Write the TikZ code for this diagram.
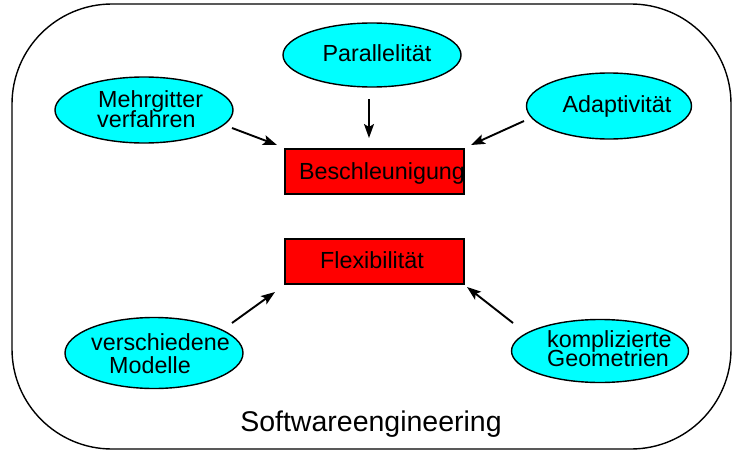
\documentclass[tikz,border=0pt]{standalone}
\usepackage{fontspec}
\setmainfont{Liberation Sans}
\usetikzlibrary{shapes.geometric,arrows.meta}
\definecolor{ellfill}{RGB}{0,255,255}
\definecolor{boxfill}{RGB}{255,0,0}
\begin{document}
\begin{tikzpicture}[x=1pt,y=-1pt,
  ell/.style={ellipse,draw,line width=1.4pt,fill=ellfill,inner sep=0pt},
  redbox/.style={rectangle,draw,line width=1.4pt,fill=boxfill,inner sep=0pt,minimum width=179pt,minimum height=45pt},
  txt/.style={font=\fontsize{23.3}{20}\selectfont,inner sep=0pt},
  arr/.style={-{Stealth[length=14pt,width=10pt,inset=3pt]},line width=1.9pt}]
\useasboundingbox (0,0) rectangle (735,452);
% outer frame
\node[draw,line width=1.4pt,rounded corners=100pt,minimum width=719pt,minimum height=445pt,inner sep=0pt] (frame) at (371.5,226.5) {};
% ellipses
\node[ell,minimum width=178pt,minimum height=64pt] (par) at (372,55) {};
\node[ell,minimum width=178pt,minimum height=66pt] (mg) at (144,110) {};
\node[ell,minimum width=165pt,minimum height=66pt] (ad) at (609,106) {};
\node[ell,minimum width=178pt,minimum height=71pt] (vm) at (154,353) {};
\node[ell,minimum width=177pt,minimum height=63pt] (kg) at (600,351) {};
% boxes
\node[redbox] (bes) at (374.5,171.5) {};
\node[redbox] (flex) at (374.5,261.5) {};
% texts
\node[txt,anchor=base] (part) at (377,61) {Parallelität};
\node[txt,anchor=base] (adt) at (617,112) {Adaptivität};
\node[txt,anchor=base west] (mgt1) at (98,107) {Mehrgitter};
\node[txt,anchor=base west] (mgt2) at (97,127) {verfahren};
\node[txt,anchor=base west] (vmt1) at (91,350) {verschiedene};
\node[txt,anchor=base west] (vmt2) at (109,373) {Modelle};
\node[txt,anchor=base west] (kgt1) at (547,347) {komplizierte};
\node[txt,anchor=base west] (kgt2) at (547,366) {Geometrien};
\node[txt,anchor=base] (best) at (382,179) {Beschleunigung};
\node[txt,anchor=base] (flext) at (372,268) {Flexibilität};
\node[font=\fontsize{28.5}{30}\selectfont,inner sep=0pt,anchor=base] (swe) at (371,431) {Softwareengineering};
% arrow end points
\coordinate (mgA) at (232,128);  \coordinate (besA) at (277,145);
\coordinate (parA) at (369,99);  \coordinate (besB) at (369,138);
\coordinate (adA) at (524,121);  \coordinate (besC) at (471,145);
\coordinate (vmA) at (232,323);  \coordinate (flexA) at (275,292);
\coordinate (kgA) at (513,323);  \coordinate (flexB) at (467,287);
\draw[arr] (mgA) -- (besA);
\draw[arr] (parA) -- (besB);
\draw[arr] (adA) -- (besC);
\draw[arr] (vmA) -- (flexA);
\draw[arr] (kgA) -- (flexB);
\end{tikzpicture}
\end{document}
